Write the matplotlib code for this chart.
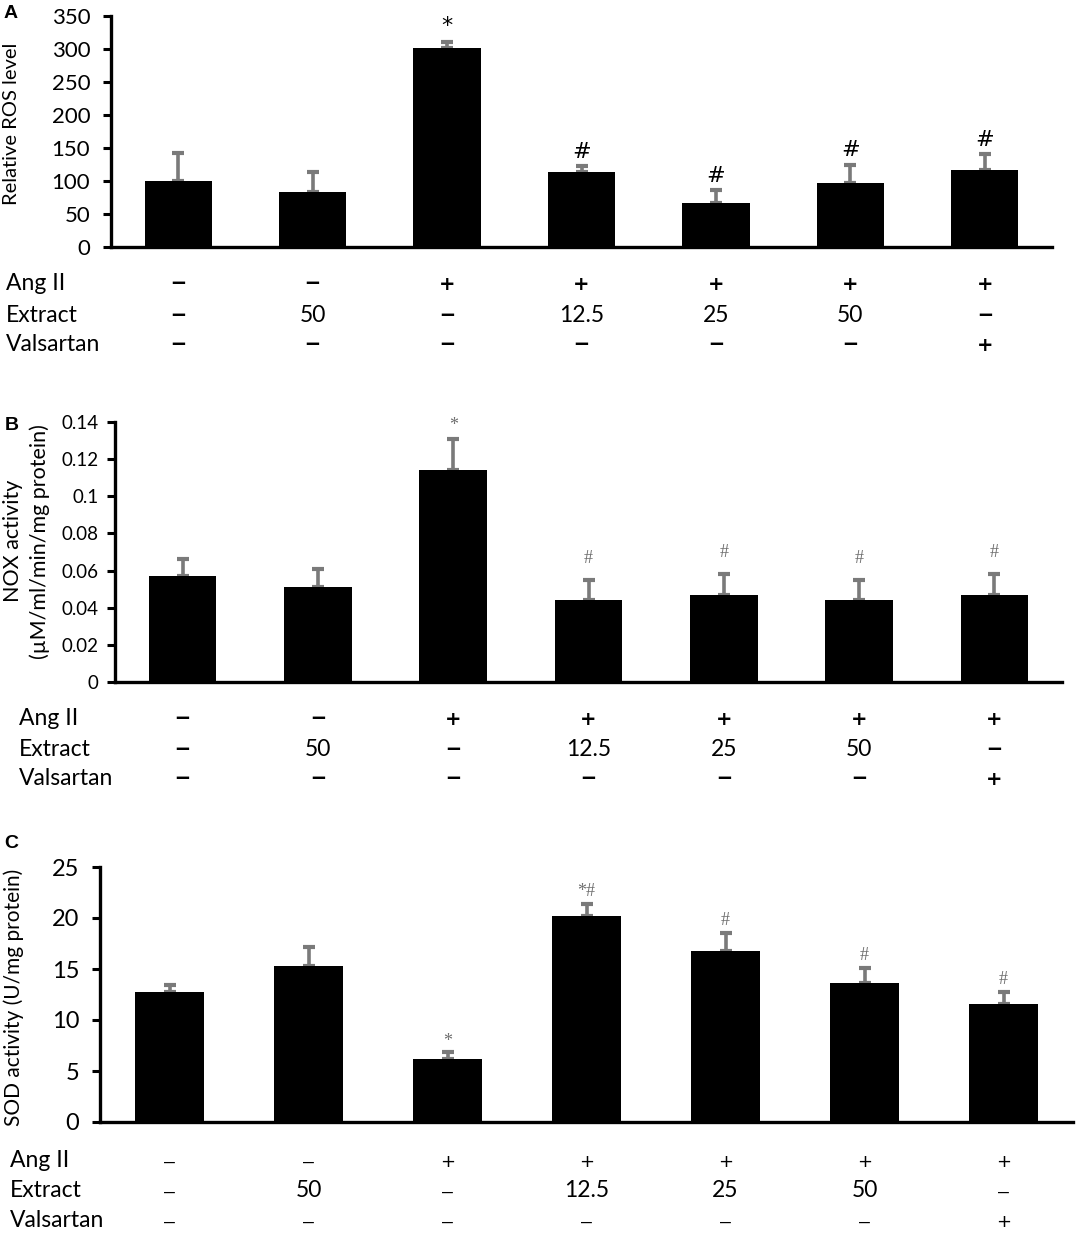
import matplotlib.pyplot as plt

plt.rcParams['font.family'] = ['Lato', 'DejaVu Sans']

ang_ii = ['–', '–', '+', '+', '+', '+', '+']
extract = ['–', '50', '–', '12.5', '25', '50', '–']
valsartan = ['–', '–', '–', '–', '–', '–', '+']

ros_mean = [100, 84, 301, 114, 66, 97, 117]
ros_err = [42, 30, 9, 9, 20, 28, 24]
ros_sig = ['', '', '*', '#', '#', '#', '#']

nox_mean = [0.057, 0.051, 0.114, 0.044, 0.047, 0.044, 0.047]
nox_err = [0.009, 0.010, 0.017, 0.011, 0.011, 0.011, 0.011]
nox_sig = ['', '', '*', '#', '#', '#', '#']

sod_mean = [12.7, 15.3, 6.15, 20.2, 16.8, 13.6, 11.6]
sod_err = [0.75, 1.85, 0.75, 1.2, 1.7, 1.5, 1.15]
sod_sig = ['', '', '*', '*#', '#', '#', '#']

W, H = 1079, 1233
fig = plt.figure(figsize=(W / 100, H / 100), dpi=100)


def fx(x):
    return x / W


def fy(y):
    return 1 - y / H


def panel(box, means, errs, sigs, ylim, yticks, ytlabels, tick_fs, pad,
          sig_style, row_y, row_x, sign_style):
    left, top, right, bottom = box
    ax = fig.add_axes([fx(left), fy(bottom), (right - left) / W, (bottom - top) / H])
    x = list(range(len(means)))
    ax.bar(x, means, width=0.5, color='black', zorder=2)
    ax.errorbar(x, means, yerr=[[0] * len(errs), errs], fmt='none',
                ecolor='#7a7a7a', elinewidth=2.6, capsize=4.5, capthick=3, zorder=1)
    ax.set_xlim(-0.5, 6.5)
    ax.set_ylim(*ylim)
    ax.set_yticks(yticks)
    ax.set_yticklabels(ytlabels, fontsize=tick_fs)
    ax.set_xticks([])
    for s in ['top', 'right']:
        ax.spines[s].set_visible(False)
    for s in ['left', 'bottom']:
        ax.spines[s].set_linewidth(2.4)
    ax.tick_params(axis='y', direction='out', length=6, width=2.2, pad=pad)

    fs, col, fam, offs = sig_style
    for i, s in enumerate(sigs):
        if s:
            off = offs['*'] if s == '*' else offs['#']
            ax.annotate(s, xy=(i, means[i] + errs[i]), xytext=(0, off),
                        textcoords='offset pixels', ha='center', va='baseline',
                        fontsize=fs, color=col, family=fam)

    names = ['Ang II', 'Extract', 'Valsartan']
    rows = [ang_ii, extract, valsartan]
    dash_fs, plus_fs, sweight = sign_style
    for name, row, yy in zip(names, rows, row_y):
        fig.text(fx(row_x), fy(yy), name, fontsize=16.5, va='baseline', ha='left')
        for i, v in enumerate(row):
            xf = fig.transFigure.inverted().transform(ax.transData.transform((i, 0)))[0]
            if v == '–':
                fig.text(xf, fy(yy), v, fontsize=dash_fs, weight=sweight,
                         family='Liberation Sans', ha='center', va='baseline')
            elif v == '+':
                fig.text(xf, fy(yy), v, fontsize=plus_fs, weight=sweight,
                         family='DejaVu Sans', ha='center', va='baseline')
            else:
                fig.text(xf, fy(yy), v, fontsize=16.5, ha='center', va='baseline')
    return ax


# Panel A
panel((111, 16, 1052, 247), ros_mean, ros_err, ros_sig, (0, 350),
      list(range(0, 351, 50)), [str(v) for v in range(0, 351, 50)], 16, 9,
      (16, 'black', ['DejaVu Sans'], {'*': 10, '#': 8}),
      (290, 322, 351), 6, (18, 14, 'bold'))
fig.text(fx(12), fy(124), 'Relative ROS level', rotation=90, fontsize=14.5,
         ha='center', va='center')
fig.text(fx(11), fy(13), 'A', fontsize=14, weight='bold',
         family='Liberation Sans', ha='center', va='center')

# Panel B
nox_ticks = [0, 0.02, 0.04, 0.06, 0.08, 0.1, 0.12, 0.14]
panel((115, 422, 1062, 682), nox_mean, nox_err, nox_sig, (0, 0.14),
      nox_ticks, ['0', '0.02', '0.04', '0.06', '0.08', '0.1', '0.12', '0.14'], 13.5, 6,
      (13, '#6e6e6e', ['Liberation Serif', 'DejaVu Serif'], {'*': 9, '#': 17}),
      (725, 756, 785), 19, (18, 14, 'bold'))
fig.text(fx(13), fy(541), 'NOX activity', rotation=90,
         fontsize=15.5, ha='center', va='center')
fig.text(fx(40), fy(542), '(µM/ml/min/mg protein)', rotation=90,
         fontsize=15.5, ha='center', va='center')
fig.text(fx(12), fy(426), 'B', fontsize=14, weight='bold',
         family='Liberation Sans', ha='center', va='center')

# Panel C
panel((100, 867, 1073, 1122), sod_mean, sod_err, sod_sig, (0, 25),
      list(range(0, 26, 5)), [str(v) for v in range(0, 26, 5)], 17, 9,
      (13, '#6e6e6e', ['Liberation Serif', 'DejaVu Serif'], {'*': 6, '#': 8}),
      (1167, 1197, 1227), 10, (14, 13, 'normal'))
fig.text(fx(14), fy(997), 'SOD activity (U/mg protein)', rotation=90, fontsize=15,
         ha='center', va='center')
fig.text(fx(11), fy(844), 'C', fontsize=14, weight='bold',
         family='Liberation Sans', ha='center', va='center')

fig.savefig('out.png', dpi=100)
